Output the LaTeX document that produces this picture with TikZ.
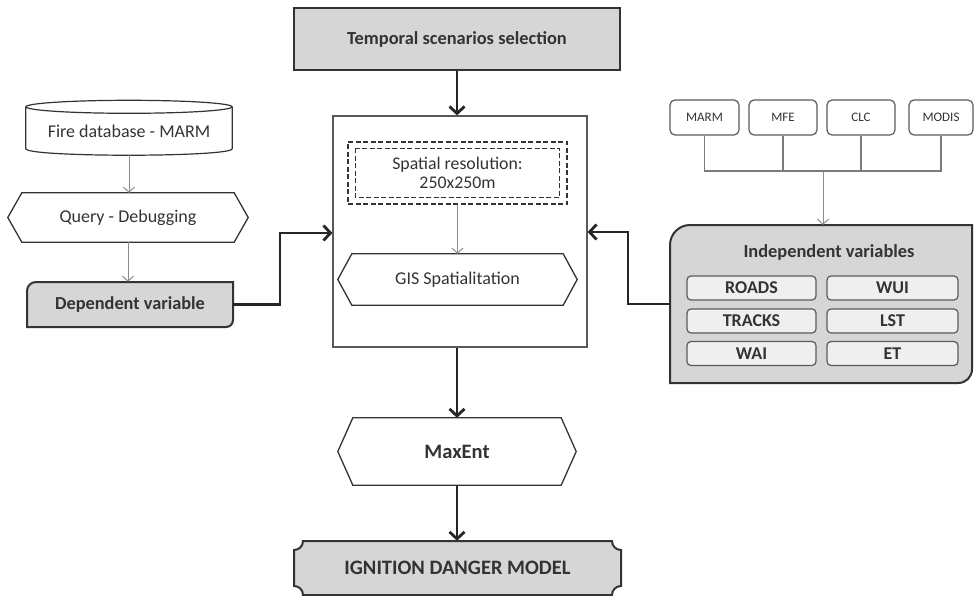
\documentclass[tikz,border=0pt]{standalone}
\usepackage{fontspec}
\setmainfont{Carlito}
\usetikzlibrary{arrows.meta,calc}
\definecolor{txt}{HTML}{333333}
\definecolor{boxgray}{HTML}{D6D6D6}
\definecolor{lightbox}{HTML}{EFEFEF}
\definecolor{thinarr}{HTML}{8C8C8C}
\definecolor{edge}{HTML}{333333}
\definecolor{midedge}{HTML}{5A5A5A}
\newcommand{\hexpath}[2]{%
  \draw[hexline] ($(#1.north west)+(#2,0)$) -- ($(#1.north east)+(-#2,0)$) -- (#1.east)
    -- ($(#1.south east)+(-#2,0)$) -- ($(#1.south west)+(#2,0)$) -- (#1.west) -- cycle;}
\begin{document}
\begin{tikzpicture}[x=1pt,y=-1pt,
  lbl/.style={text=txt, inner sep=0pt, align=center},
  fs/.style={font=\fontsize{#1}{19}\selectfont},
  bfs/.style={font=\bfseries\fontsize{#1}{19}\selectfont},
  hexline/.style={draw=edge, line width=1.3pt},
  thickarr/.style={line width=2.8pt, draw=black!85, -{Straight Barb[length=7pt,width=15pt]}},
  thinarrow/.style={line width=1pt, draw=thinarr, -{Straight Barb[length=5pt,width=11pt]}},
  dashbox/.style={draw=edge, dash pattern=on 5pt off 2.5pt, line width=1.2pt},
  srcbox/.style={lbl, fs=13, draw=midedge, line width=1.2pt, rounded corners=5pt, minimum height=35pt},
  varbox/.style={lbl, bfs=18, fill=lightbox, draw=midedge, line width=1.2pt, rounded corners=4pt, minimum height=24pt},
  busline/.style={draw=midedge!80, line width=1.1pt}]
\useasboundingbox (0,0) rectangle (974,596);

% top
\node[lbl, bfs=18.4, fill=boxgray, draw=edge, line width=2pt, minimum width=326pt, minimum height=62pt] (temporal) at (457,39) {Temporal scenarios selection};

% central box
\node[draw=black!65, line width=1.2pt, minimum width=254pt, minimum height=231pt] (central) at (460,231.5) {};
\node[lbl, fs=17.8, dashbox, minimum width=219pt, minimum height=62pt] (spatial) at (457.5,173) {Spatial resolution:\\250x250m};
\draw[dashbox] ($(spatial.north west)+(8,7)$) rectangle ($(spatial.south east)+(-8,-7)$);
\node[lbl, fs=18, minimum width=239pt, minimum height=51pt] (gis) at (457.5,279.5) {GIS Spatialitation};
\hexpath{gis}{14}

% MaxEnt and model
\node[lbl, bfs=20.5, minimum width=238pt, minimum height=67pt] (maxent) at (457,451.5) {MaxEnt};
\hexpath{maxent}{15}
\draw[fill=boxgray, draw=edge, line width=2pt] (303,541) -- (612,541) .. controls (612,546) and (616,550) .. (621,550) -- (621,586) .. controls (616,586) and (612,590) .. (612,595) -- (303,595) .. controls (303,590) and (299,586) .. (294,586) -- (294,550) .. controls (299,550) and (303,546) .. (303,541) -- cycle;
\node[lbl, bfs=20.5, minimum width=327pt, minimum height=54pt] (ignition) at (457.5,568) {IGNITION DANGER MODEL};

% left column
\node[lbl, fs=18, minimum width=206pt, minimum height=48pt] (db) at (129,131) {Fire database - MARM};
\draw[draw=edge, line width=1.2pt] (db.north west) -- ($(db.south west)+(0,-6.5)$) .. controls ($(db.south west)+(0,2.2)$) and ($(db.south east)+(0,2.2)$) .. ($(db.south east)+(0,-6.5)$) -- (db.north east);
\draw[draw=edge, line width=1.2pt] (db.north) ellipse [x radius=103pt, y radius=6.5pt];
\node[lbl, fs=18, minimum width=240pt, minimum height=49pt] (query) at (128,217.5) {Query - Debugging};
\hexpath{query}{14}
\draw[fill=boxgray, draw=edge, line width=2pt] (27,291) .. controls (27,286) and (31,282) .. (36,282) -- (233,282) -- (233,320) .. controls (233,324) and (230,327) .. (226,327) -- (27,327) -- cycle;
\node[lbl, bfs=18.3, minimum width=206pt, minimum height=45pt] (dep) at (130,304.5) {Dependent variable};

% right column
\node[srcbox, minimum width=69pt] (marm) at (704.5,117.5) {MARM};
\node[srcbox, minimum width=68pt] (mfe) at (783,117.5) {MFE};
\node[srcbox, minimum width=68pt] (clc) at (861,117.5) {CLC};
\node[srcbox, minimum width=64pt] (modis) at (941,117.5) {MODIS};
\coordinate (bus) at (823,171);
\draw[busline] (marm.south) |- (modis.south |- bus) -- (modis.south);
\draw[busline] (mfe.south) -- (mfe.south |- bus);
\draw[busline] (clc.south) -- (clc.south |- bus);

\draw[fill=boxgray, draw=edge, line width=2pt] (670,245) .. controls (670,234) and (679,225) .. (690,225) -- (972,225) -- (972,369) .. controls (972,377) and (966,383) .. (958,383) -- (670,383) -- cycle;
\node[minimum width=302pt, minimum height=158pt, inner sep=0pt] (indep) at (821,304) {};
\node[lbl, bfs=18.4] (indeptitle) at (829,252) {Independent variables};
\node[varbox, minimum width=129pt] (roads) at (751.5,288) {ROADS};
\node[varbox, minimum width=129pt] (tracks) at (751.5,321) {TRACKS};
\node[varbox, minimum width=129pt] (wai) at (751.5,353.5) {WAI};
\node[varbox, minimum width=131pt] (wui) at (892.5,288) {WUI};
\node[varbox, minimum width=131pt] (lst) at (892.5,321) {LST};
\node[varbox, minimum width=131pt] (et) at (892.5,353.5) {ET};

% connectors
\draw[thinarrow] (bus) -- (bus |- indep.north);
\draw[thinarrow] (db.south) -- (db.south |- query.north);
\draw[thinarrow] (query.south) -- (query.south |- dep.north);
\draw[thinarrow] (spatial.south) -- (gis.north);
\draw[thickarr] (temporal.south) -- (temporal.south |- central.north);
\draw[thickarr] (central.south -| maxent.north) -- (maxent.north);
\draw[thickarr] (maxent.south) -- (maxent.south |- ignition.north);
\coordinate (jl) at (280,233);
\coordinate (jr) at (628,232);
\draw[thickarr] (dep.east) -| (jl) -- (jl -| central.west);
\draw[thickarr] (indep.west) -| (jr) -- (jr -| central.east);
\end{tikzpicture}
\end{document}
